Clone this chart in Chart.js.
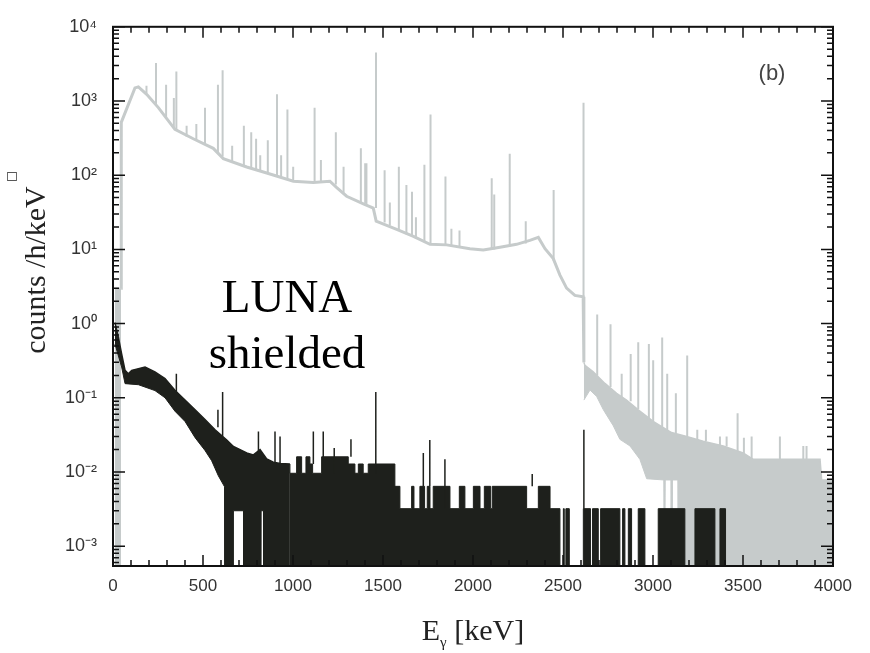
<!DOCTYPE html>
<html>
<head>
<meta charset="utf-8">
<script src="https://cdn.jsdelivr.net/npm/chart.js@4.4.1/dist/chart.umd.min.js"></script>
<style>
  html, body { margin: 0; padding: 0; background: #fff; }
  #wrap { width: 870px; height: 653px; position: relative; }
</style>
</head>
<body>
<div id="wrap"><canvas id="grafica"></canvas></div>
<script>
// zero-count bins go below the axis minimum so they reach the floor
const FLOOR = 1e-4;

const xTickValues = [0, 500, 1000, 1500, 2000, 2500, 3000, 3500, 4000];
const yDecades = [-3, -2, -1, 0, 1, 2, 3, 4];
const yTickLabels = ['10⁻³', '10⁻²', '10⁻¹', '10⁰', '10¹', '10²', '10³', '10⁴'];

// unshielded spectrum (grey), [keV, counts/h/keV]
const grayLowStrip = [[11, 3], [45, 3]];
const grayContinuum = [
  [45, 3], [46, 515], [122, 1500], [141, 1550], [187, 1230], [252, 815], [344, 415],
  [446, 310], [557, 230], [613, 167], [743, 129], [854, 107], [1002, 83], [1113, 80],
  [1205, 83], [1243, 68], [1298, 52], [1391, 41], [1446, 36], [1462, 24], [1576, 18.6],
  [1669, 15], [1761, 11.7], [1854, 11.5], [1983, 10.2], [2057, 9.8], [2150, 10.7],
  [2242, 11.7], [2316, 13.2], [2363, 14.5], [2400, 10.2], [2446, 7.5], [2483, 4.5],
  [2520, 3.0], [2566, 2.4], [2612, 2.3], [2616, 0.3]
];
// [keV, base, top]
const grayPeaks = [
  [186, 1280, 1600], [239, 880, 3240], [295, 600, 1660], [338, 440, 1100], [352, 400, 2500],
  [409, 330, 465], [463, 300, 490], [511, 270, 810], [583, 200, 1660], [609, 180, 2600],
  [662, 150, 250], [727, 135, 465], [768, 125, 380], [795, 120, 310], [818, 115, 185],
  [860, 110, 295], [911, 100, 1230], [934, 95, 185], [969, 90, 770], [1001, 84, 130],
  [1120, 80, 810], [1155, 81, 160], [1238, 75, 380], [1281, 58, 130], [1377, 43, 230],
  [1401, 42, 145], [1408, 41, 145], [1461, 36, 4500], [1509, 23, 117], [1538, 21, 43],
  [1588, 18, 130], [1630, 16, 74], [1661, 15, 60], [1683, 14, 27], [1730, 12.5, 138],
  [1764, 11.7, 660], [1847, 11.5, 96], [1880, 11, 19], [1925, 11, 18], [2104, 10, 91],
  [2118, 10, 55], [2204, 11, 195], [2293, 12, 24], [2448, 7, 63], [2614, 2.3, 950]
];
const grayBandTop = [
  [2616, 0.3], [2622, 0.273], [2668, 0.223], [2733, 0.156], [2798, 0.115], [2853, 0.093],
  [2918, 0.069], [3001, 0.048], [3103, 0.034], [3187, 0.030], [3279, 0.026], [3390, 0.0224],
  [3501, 0.018], [3557, 0.0148], [3928, 0.0148], [3937, 0.0078], [4000, 0.0078]
];
const grayBandBottom = [
  [2616, 0.093], [2650, 0.127], [2687, 0.104], [2724, 0.069], [2779, 0.042], [2816, 0.0275],
  [2872, 0.0224], [2927, 0.0148], [2965, 0.0081], [3060, 0.0078], [3062, FLOOR], [3066, FLOOR],
  [3068, 0.0078], [3100, 0.0078], [3102, FLOOR], [3106, FLOOR], [3108, 0.0078], [3138, 0.0078],
  [3140, FLOOR], [4000, FLOOR]
];
const grayBandPeaks = [
  [2690, 0.2, 1.32], [2764, 0.14, 0.98], [2826, 0.1, 0.21], [2876, 0.09, 0.39], [2918, 0.07, 0.56],
  [2977, 0.05, 0.53], [3001, 0.048, 0.32], [3051, 0.04, 0.65], [3079, 0.036, 0.21],
  [3127, 0.033, 0.115], [3190, 0.03, 0.37], [3246, 0.027, 0.037], [3294, 0.026, 0.037],
  [3372, 0.023, 0.030], [3409, 0.022, 0.030], [3470, 0.019, 0.062], [3505, 0.018, 0.029],
  [3548, 0.015, 0.030], [3705, 0.015, 0.030], [3835, 0.015, 0.0224], [3853, 0.015, 0.0224]
];

// LUNA shielded spectrum (black)
const blackBandTop = [
  [11, 1.03], [30, 0.65], [48, 0.39], [67, 0.234], [85, 0.21], [104, 0.234], [178, 0.26],
  [233, 0.223], [289, 0.182], [344, 0.126], [400, 0.093], [456, 0.069], [511, 0.051],
  [567, 0.037], [632, 0.027], [669, 0.022], [706, 0.02], [743, 0.018], [780, 0.017],
  [817, 0.02], [854, 0.015], [891, 0.0135], [930, 0.013], [983, 0.0128]
];
const blackBandBottom = [
  [11, 0.53], [48, 0.26], [67, 0.155], [141, 0.15], [233, 0.125], [289, 0.1], [344, 0.066],
  [400, 0.048], [456, 0.029], [511, 0.0195], [548, 0.0142], [585, 0.0089], [620, 0.0063],
  [622, FLOOR], [668, FLOOR], [669, 0.003], [725, 0.003], [726, FLOOR], [822, FLOOR],
  [823, 0.003], [836, 0.003], [837, FLOOR], [983, FLOOR]
];
// step histogram, each level holds until the next energy
const blackSteps = [
  [983, 0.0128], [1020, 0.0096], [1048, 0.016], [1072, 0.0096], [1094, 0.016], [1109, 0.0128],
  [1159, 0.0096], [1307, 0.016], [1344, 0.0128], [1363, 0.0096], [1390, 0.0128], [1418, 0.0096],
  [1566, 0.0128], [1594, 0.0064], [1659, 0.0032], [1672, 0.0064], [1705, 0.0032], [1731, 0.0064],
  [1746, 0.0032], [1761, 0.0064], [1779, 0.0032], [1872, 0.0064], [1924, 0.0032], [1955, 0.0064],
  [2002, 0.0032], [2039, 0.0064], [2063, 0.0032], [2098, 0.0064], [2107, 0.0032], [2298, 0.0064],
  [2363, 0.0032], [2428, 0.0064], [2483, 0.0032], [2502, FLOOR], [2507, 0.0032], [2516, FLOOR],
  [2535, 0.0032], [2613, FLOOR], [2653, 0.0032], [2664, FLOOR], [2696, 0.0032], [2709, FLOOR],
  [2816, 0.0032], [2831, FLOOR], [2844, 0.0032], [2863, FLOOR], [2881, 0.0032], [2918, FLOOR],
  [2955, 0.0032], [3029, FLOOR], [3177, 0.0032], [3233, FLOOR], [3344, 0.0032], [3372, FLOOR],
  [3403, 0.0032], [3418, FLOOR]
];
const blackPeaks = [
  [352, 0.12, 0.21], [583, 0.04, 0.069], [609, 0.03, 0.12], [808, 0.016, 0.035],
  [900, 0.0135, 0.035], [928, 0.013, 0.03], [1113, 0.0128, 0.035], [1168, 0.0096, 0.035],
  [1229, 0.0096, 0.021], [1322, 0.016, 0.0275], [1460, 0.0096, 0.12], [1724, 0.0064, 0.018],
  [1760, 0.0064, 0.027], [1844, 0.0032, 0.0148], [2329, 0.0064, 0.0094], [2616, 0.0032, 0.037]
];

const GRAY = '#c6cbcb';
const BLACK = '#1e201c';

function puntos(lista) {
  return lista.map(p => ({ x: p[0], y: p[1] }));
}

// each peak becomes a vertical segment, separated by a gap
function picos(lista) {
  const out = [];
  lista.forEach(p => {
    out.push({ x: p[0], y: p[1] });
    out.push({ x: p[0], y: p[2] });
    out.push({ x: p[0], y: null });
  });
  return out;
}

const ejes = {
  id: 'ejes',
  afterDatasetsDraw(chart) {
    const { ctx, chartArea: a, scales: { x, y } } = chart;
    ctx.save();
    ctx.strokeStyle = '#111';
    ctx.lineWidth = 1.5;
    ctx.beginPath();
    for (let e = 0; e <= 4000; e += 100) {
      const px = x.getPixelForValue(e);
      const len = e % 500 === 0 ? 11 : 6;
      ctx.moveTo(px, a.bottom); ctx.lineTo(px, a.bottom - len);
      ctx.moveTo(px, a.top); ctx.lineTo(px, a.top + len);
    }
    for (let d = -4; d <= 4; d++) {
      for (let k = 1; k <= 9; k++) {
        const v = k * Math.pow(10, d);
        if (v < y.min || v > y.max) continue;
        const py = y.getPixelForValue(v);
        const len = k === 1 ? 12 : 6;
        ctx.moveTo(a.left, py); ctx.lineTo(a.left + len, py);
        ctx.moveTo(a.right, py); ctx.lineTo(a.right - len, py);
      }
    }
    ctx.stroke();
    ctx.lineWidth = 2;
    ctx.strokeRect(a.left, a.top, a.width, a.height);
    ctx.restore();
  },
  afterDraw(chart) {
    const { ctx } = chart;
    ctx.save();
    ctx.fillStyle = '#000';
    ctx.textAlign = 'center';
    ctx.textBaseline = 'alphabetic';
    ctx.font = '47px "Liberation Serif", "Times New Roman", serif';
    ctx.fillText('LUNA', 287, 312);
    ctx.fillText('shielded', 287, 368);

    ctx.fillStyle = '#444';
    ctx.font = '22px "Liberation Sans", Arial, sans-serif';
    ctx.fillText('(b)', 772, 80);

    // y title
    ctx.fillStyle = '#222';
    ctx.font = '30px "Liberation Serif", "Times New Roman", serif';
    ctx.translate(45, 270);
    ctx.rotate(-Math.PI / 2);
    ctx.fillText('counts /h/keV', 0, 0);
    ctx.font = '12px "DejaVu Sans", sans-serif';
    ctx.textAlign = 'left';
    ctx.fillText('□', 88, -30);
    ctx.restore();

    // x title with subscript gamma
    ctx.save();
    ctx.fillStyle = '#222';
    ctx.textBaseline = 'alphabetic';
    ctx.textAlign = 'left';
    const big = '30px "Liberation Serif", "Times New Roman", serif';
    const small = '15px "Liberation Serif", "Times New Roman", serif';
    ctx.font = big;
    const wE = ctx.measureText('E').width;
    const wRest = ctx.measureText(' [keV]').width;
    ctx.font = small;
    const wG = ctx.measureText('γ').width;
    let x0 = 473 - (wE + wG + wRest) / 2;
    const base = 640;
    ctx.font = big;
    ctx.fillText('E', x0, base);
    ctx.font = small;
    ctx.fillText('γ', x0 + wE, base + 7);
    ctx.font = big;
    ctx.fillText(' [keV]', x0 + wE + wG, base);
    ctx.restore();
  }
};

function dibujarGrafica() {
  const ctx = document.getElementById('grafica').getContext('2d');
  const linea = { pointRadius: 0, pointHoverRadius: 0, tension: 0 };

  new Chart(ctx, {
    type: 'line',
    data: {
      datasets: [
        // black on top (lower order drawn last)
        Object.assign({}, linea, {
          label: 'LUNA picos', data: picos(blackPeaks), borderColor: BLACK,
          borderWidth: 1.5, fill: false, spanGaps: false, order: 1
        }),
        Object.assign({}, linea, {
          label: 'LUNA pasos', data: puntos(blackSteps), borderColor: BLACK, backgroundColor: BLACK,
          borderWidth: 1, stepped: 'after', fill: 'start', order: 1
        }),
        Object.assign({}, linea, {
          label: 'LUNA banda', data: puntos(blackBandTop), borderColor: BLACK, backgroundColor: BLACK,
          borderWidth: 1.5, fill: '+1', order: 1
        }),
        Object.assign({}, linea, {
          label: 'LUNA banda inf', data: puntos(blackBandBottom), borderColor: BLACK,
          borderWidth: 1, fill: false, order: 1
        }),
        Object.assign({}, linea, {
          label: 'picos gris', data: picos(grayPeaks.concat(grayBandPeaks)), borderColor: GRAY,
          borderWidth: 2, fill: false, spanGaps: false, order: 2
        }),
        Object.assign({}, linea, {
          label: 'gris', data: puntos(grayContinuum), borderColor: GRAY,
          borderWidth: 3, fill: false, order: 2
        }),
        Object.assign({}, linea, {
          label: 'gris banda', data: puntos(grayBandTop), borderColor: GRAY, backgroundColor: GRAY,
          borderWidth: 1.5, fill: '+1', order: 2
        }),
        Object.assign({}, linea, {
          label: 'gris banda inf', data: puntos(grayBandBottom), borderColor: GRAY,
          borderWidth: 1, fill: false, order: 2
        }),
        Object.assign({}, linea, {
          label: 'gris bajo', data: puntos(grayLowStrip), borderColor: GRAY, backgroundColor: GRAY,
          borderWidth: 1, fill: 'start', order: 2
        })
      ]
    },
    options: {
      responsive: true,
      maintainAspectRatio: false,
      animation: false,
      layout: { padding: { left: 0, right: 37, top: 17, bottom: 0 } },
      plugins: { legend: { display: false }, tooltip: { enabled: false } },
      scales: {
        x: {
          type: 'linear', min: 0, max: 4000, offset: false,
          grid: { display: false, drawTicks: false },
          border: { display: false },
          afterBuildTicks: s => { s.ticks = xTickValues.map(v => ({ value: v })); },
          afterFit: s => { s.height = 87; },
          ticks: {
            autoSkip: false, maxRotation: 0, padding: 10, color: '#333',
            font: { family: '"Liberation Sans", Arial, sans-serif', size: 17 },
            callback: v => String(v)
          }
        },
        y: {
          type: 'logarithmic', min: 5.4e-4, max: 1e4,
          grid: { display: false, drawTicks: false },
          border: { display: false },
          afterBuildTicks: s => { s.ticks = yDecades.map(d => ({ value: Math.pow(10, d) })); },
          afterFit: s => { s.width = 113; },
          ticks: {
            autoSkip: false, padding: 16, color: '#333',
            font: { family: '"Liberation Sans", Arial, sans-serif', size: 18 },
            callback: (v) => {
              const i = yDecades.indexOf(Math.round(Math.log10(v)));
              return i >= 0 ? yTickLabels[i] : '';
            }
          }
        }
      }
    },
    plugins: [ejes]
  });
}

dibujarGrafica();
</script>
</body>
</html>
